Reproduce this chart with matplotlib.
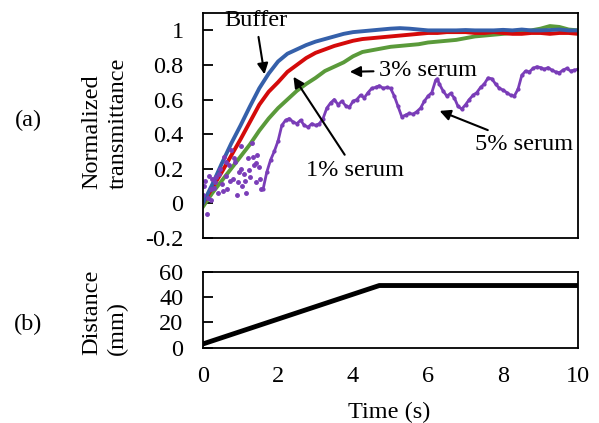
import matplotlib
matplotlib.use('Agg')
from matplotlib import pyplot as plt

plt.rcParams['font.family'] = ['Liberation Serif', 'DejaVu Serif']
plt.rcParams['font.size'] = 17.5

# transmittance data (time in s)
time_s = [0, 0.25, 0.5, 0.75, 1.0, 1.25, 1.5, 1.75, 2.0, 2.25, 2.5, 2.75, 3.0,
          3.25, 3.5, 3.75, 4.0, 4.25, 4.5, 4.75, 5.0, 5.25, 5.5, 5.75, 6.0,
          6.25, 6.5, 6.75, 7.0, 7.25, 7.5, 7.75, 8.0, 8.25, 8.5, 8.75, 9.0,
          9.25, 9.5, 9.75, 10.0]
buffer_vals = [0.00, 0.11, 0.23, 0.345, 0.45, 0.56, 0.665, 0.75, 0.82, 0.865,
               0.89, 0.915, 0.935, 0.95, 0.965, 0.98, 0.99, 0.995, 1.0, 1.005,
               1.01, 1.013, 1.01, 1.005, 1.0, 1.0, 1.0, 1.0, 1.002, 1.0, 1.0,
               1.0, 1.003, 1.0, 1.005, 1.0, 1.0, 1.002, 1.005, 1.0, 1.0]
serum1_vals = [0.00, 0.09, 0.18, 0.275, 0.37, 0.47, 0.57, 0.645, 0.70, 0.76,
               0.80, 0.84, 0.87, 0.89, 0.91, 0.925, 0.94, 0.95, 0.955, 0.96,
               0.965, 0.97, 0.975, 0.98, 0.985, 0.985, 0.99, 0.99, 0.99, 0.985,
               0.985, 0.99, 0.985, 0.98, 0.98, 0.985, 0.985, 0.98, 0.985, 0.985,
               0.98]
serum3_vals = [-0.02, 0.06, 0.13, 0.20, 0.27, 0.34, 0.42, 0.49, 0.55, 0.60,
               0.65, 0.69, 0.725, 0.765, 0.79, 0.815, 0.85, 0.875, 0.885, 0.895,
               0.905, 0.91, 0.915, 0.92, 0.93, 0.935, 0.94, 0.945, 0.955, 0.965,
               0.97, 0.975, 0.98, 0.985, 0.99, 1.0, 1.01, 1.025, 1.02, 1.005,
               1.0]

# 5% serum: scattered start, then a connected trace
serum5_early_t = [0.0, 0.05, 0.1, 0.15, 0.2, 0.25, 0.3, 0.35, 0.4, 0.45, 0.5,
                  0.55, 0.6, 0.65, 0.7, 0.75, 0.8, 0.85, 0.9, 0.95, 1.0, 1.05,
                  1.1, 1.15, 1.2, 1.25, 1.3, 1.35, 1.4, 1.45, 1.5, 1.55,
                  0.02, 0.12, 0.22, 0.32, 0.42, 0.52, 0.62, 0.72, 0.82, 0.92,
                  1.02, 1.12, 1.22, 1.32, 1.42, 1.52]
serum5_early = [0.05, 0.13, -0.06, 0.16, 0.02, 0.14, 0.09, 0.15, 0.06, 0.20,
                0.11, 0.27, 0.16, 0.08, 0.22, 0.31, 0.14, 0.24, 0.05, 0.18,
                0.33, 0.10, 0.17, 0.06, 0.26, 0.15, 0.35, 0.22, 0.12, 0.28,
                0.21, 0.08,
                0.10, 0.03, 0.08, 0.12, 0.17, 0.07, 0.24, 0.13, 0.26, 0.12,
                0.20, 0.13, 0.19, 0.27, 0.23, 0.14]
serum5_t = [1.6, 1.7, 1.8, 1.9, 2.0, 2.1, 2.2, 2.3, 2.4, 2.5, 2.6, 2.7, 2.8,
            2.9, 3.0, 3.1, 3.2, 3.3, 3.4, 3.5, 3.6, 3.7, 3.8, 3.9, 4.0, 4.1,
            4.2, 4.3, 4.4, 4.5, 4.6, 4.7, 4.8, 4.9, 5.0, 5.1, 5.2, 5.3, 5.4,
            5.5, 5.6, 5.7, 5.8, 5.9, 6.0, 6.1, 6.2, 6.25, 6.3, 6.4, 6.5, 6.6,
            6.7, 6.8, 6.9, 7.0, 7.1, 7.2, 7.3, 7.4, 7.5, 7.6, 7.7, 7.8, 7.9,
            8.0, 8.1, 8.2, 8.3, 8.4, 8.5, 8.6, 8.7, 8.8, 8.9, 9.0, 9.1, 9.2,
            9.3, 9.4, 9.5, 9.6, 9.7, 9.8, 9.9, 10.0]
serum5_vals = [0.08, 0.18, 0.25, 0.30, 0.36, 0.45, 0.48, 0.49, 0.47, 0.46,
               0.48, 0.45, 0.44, 0.46, 0.45, 0.46, 0.49, 0.55, 0.58, 0.60,
               0.57, 0.59, 0.565, 0.555, 0.59, 0.60, 0.625, 0.61, 0.64, 0.665,
               0.67, 0.68, 0.665, 0.67, 0.665, 0.62, 0.56, 0.50, 0.51, 0.52,
               0.515, 0.53, 0.55, 0.59, 0.62, 0.64, 0.71, 0.72, 0.69, 0.65,
               0.62, 0.635, 0.61, 0.56, 0.545, 0.57, 0.60, 0.625, 0.64, 0.67,
               0.69, 0.725, 0.72, 0.69, 0.665, 0.655, 0.64, 0.625, 0.62, 0.66,
               0.74, 0.765, 0.76, 0.78, 0.79, 0.785, 0.775, 0.785, 0.77, 0.76,
               0.755, 0.77, 0.78, 0.765, 0.77, 0.775]

# stage distance
dist_t = [0, 4.7, 10]
dist_mm = [3, 49, 49]

fig = plt.figure(figsize=(5.99, 4.23), dpi=100)
ax1 = fig.add_axes([0.339, 0.438, 0.626, 0.531])
ax2 = fig.add_axes([0.339, 0.178, 0.626, 0.180])

blue = '#3560AA'
red = '#D40A0A'
green = '#5A9A3A'
purple = '#7A3DB8'

ax1.plot(time_s, serum3_vals, color=green, lw=2.8)
ax1.plot(time_s, serum1_vals, color=red, lw=2.8)
ax1.plot(time_s, buffer_vals, color=blue, lw=2.8)
ax1.plot(serum5_early_t, serum5_early, 'o', color=purple, ms=2.5)
ax1.plot(serum5_t, serum5_vals, color=purple, lw=2.0, marker='o', ms=2)

arrow = dict(arrowstyle='-|>', color='black', lw=1.5, mutation_scale=16)
ax1.annotate('Buffer', xy=(1.65, 0.73), xytext=(1.41, 1.055),
             ha='center', va='center', arrowprops=arrow)
ax1.annotate('3% serum', xy=(3.84, 0.76), xytext=(6.0, 0.77),
             ha='center', va='center', arrowprops=arrow)
ax1.annotate('1% serum', xy=(2.37, 0.745), xytext=(4.05, 0.19),
             ha='center', va='center', arrowprops=arrow)
ax1.annotate('5% serum', xy=(6.24, 0.54), xytext=(8.55, 0.34),
             ha='center', va='center', arrowprops=arrow)

ax1.set_xlim(0, 10)
ax1.set_ylim(-0.2, 1.1)
ax1.set_yticks([-0.2, 0, 0.2, 0.4, 0.6, 0.8, 1.0])
ax1.set_yticklabels(['-0.2', '0', '0.2', '0.4', '0.6', '0.8', '1'])
ax1.set_xticks([])
ax1.tick_params(axis='y', direction='in', length=7, width=1.3, pad=14)

ax2.plot(dist_t, dist_mm, color='black', lw=3.5)
ax2.set_xlim(0, 10)
ax2.set_ylim(0, 60)
ax2.set_yticks([0, 20, 40, 60])
ax2.set_xticks([0, 2, 4, 6, 8, 10])
ax2.tick_params(axis='y', direction='in', length=7, width=1.3, pad=14)
ax2.tick_params(axis='x', length=0, pad=13)

for ax in (ax1, ax2):
    for s in ax.spines.values():
        s.set_linewidth(1.3)

fig.text(0.047, 0.716, '(a)', ha='center', va='center')
fig.text(0.047, 0.232, '(b)', ha='center', va='center')
fig.text(0.175, 0.708, 'Normalized\ntransmittance', rotation=90,
         ha='center', va='center', multialignment='left', linespacing=1.3)
fig.text(0.175, 0.262, 'Distance\n(mm)', rotation=90,
         ha='center', va='center', multialignment='left', linespacing=1.3)
fig.text(0.65, 0.024, 'Time (s)', ha='center', va='center')

fig.savefig('out.png', dpi=100)
